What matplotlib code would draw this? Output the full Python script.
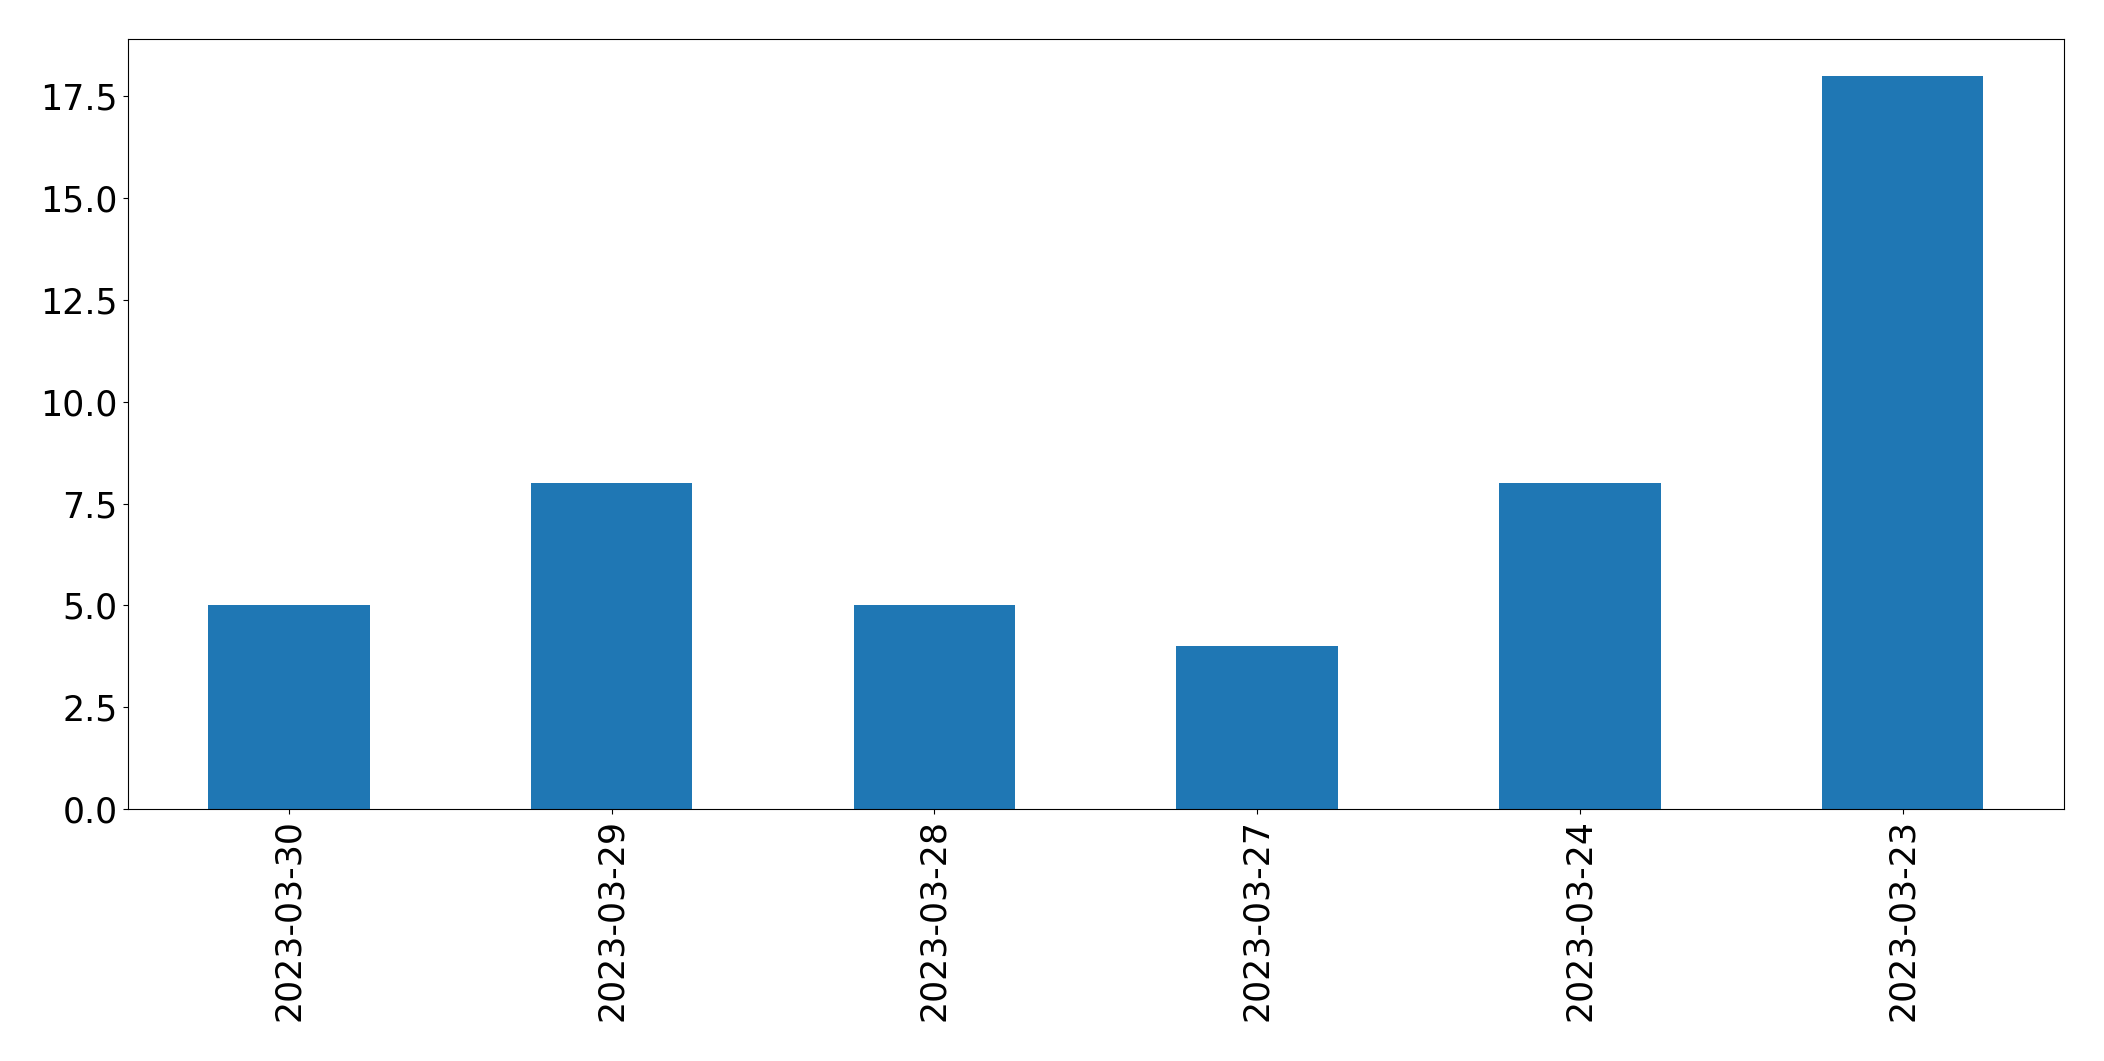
import matplotlib
matplotlib.use("Agg")
import matplotlib.pyplot as plt
import pandas as pd

dates = ["2023-03-30", "2023-03-29", "2023-03-28", "2023-03-27", "2023-03-24", "2023-03-23"]
counts = [5, 8, 5, 4, 8, 18]

s = pd.Series(counts, index=dates)

fig, ax = plt.subplots(figsize=(21.04, 10.61), dpi=100)
s.plot(kind="bar", ax=ax, color="#1f77b4", fontsize=25)
ax.tick_params(axis="both", labelsize=25)
plt.subplots_adjust(left=0.0606, right=0.981, top=0.963, bottom=0.2375)
fig.savefig("out.png", dpi=100)
